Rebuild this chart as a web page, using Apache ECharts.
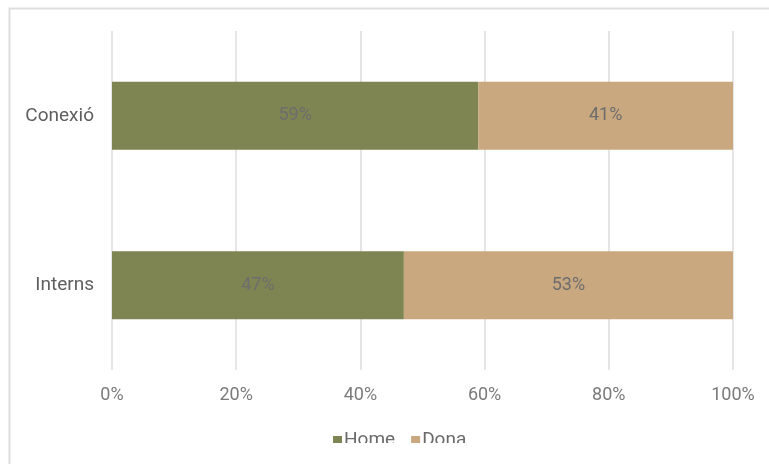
<!DOCTYPE html>
<html>
<head>
<meta charset="utf-8">
<script src="https://cdn.jsdelivr.net/npm/echarts@6/dist/echarts.min.js"></script>
<style>
  html, body { margin: 0; padding: 0; background: #fff; }
  #chart { width: 769px; height: 464px; }
</style>
</head>
<body>
<div id="chart"></div>
<script>
// Share of men and women by group (percent)
const categories = ['Interns', 'Conexió'];
const homeValues = [47, 59];
const donaValues = [53, 41];
const seriesNames = ['Home', 'Dona'];
const xTicks = [0, 20, 40, 60, 80, 100];

const chart = echarts.init(document.getElementById('chart'), null, { renderer: 'canvas' });

const labelStyle = {
  show: true,
  position: 'inside',
  color: '#6d6d6d',
  fontSize: 18,
  fontFamily: 'Roboto',
  formatter: p => p.value + '%'
};

chart.setOption({
  backgroundColor: '#ffffff',
  animation: false,
  textStyle: { fontFamily: 'Roboto' },
  grid: { left: 112, right: 36, top: 31, bottom: 94, containLabel: false },
  xAxis: {
    type: 'value',
    min: xTicks[0],
    max: xTicks[xTicks.length - 1],
    interval: xTicks[1] - xTicks[0],
    axisLine: { show: false },
    axisTick: { show: false },
    splitLine: { show: true, lineStyle: { color: '#dcdcdc', width: 1.5 } },
    axisLabel: { formatter: '{value}%', color: '#7a7a7a', fontSize: 18, margin: 16 }
  },
  yAxis: {
    type: 'category',
    data: categories,
    axisLine: { show: false },
    axisTick: { show: false },
    axisLabel: { color: '#5e5e5e', fontSize: 19, margin: 18 }
  },
  legend: {
    data: seriesNames,
    left: 328,
    top: 426,
    icon: 'rect',
    itemWidth: 9,
    itemHeight: 9,
    itemGap: 16,
    textStyle: { color: '#6a6a6a', fontSize: 19, padding: [0, 0, 0, -3] }
  },
  series: [
    {
      name: seriesNames[0],
      type: 'bar',
      stack: 'total',
      data: homeValues,
      barCategoryGap: '60%',
      itemStyle: { color: '#7f8552' },
      label: labelStyle
    },
    {
      name: seriesNames[1],
      type: 'bar',
      stack: 'total',
      data: donaValues,
      barCategoryGap: '60%',
      itemStyle: { color: '#c9a880' },
      label: labelStyle
    }
  ],
  graphic: [
    // strip at the bottom that trims the legend text
    {
      type: 'rect',
      left: 11, top: 443,
      shape: { width: 758, height: 21 },
      style: { fill: '#ffffff' },
      z: 100
    },
    // frame around the chart area
    {
      type: 'polyline',
      shape: { points: [[9.5, 464], [9.5, 8.5], [769, 8.5]] },
      style: { stroke: '#dedede', lineWidth: 2, fill: null },
      z: 101
    }
  ]
});
</script>
</body>
</html>
